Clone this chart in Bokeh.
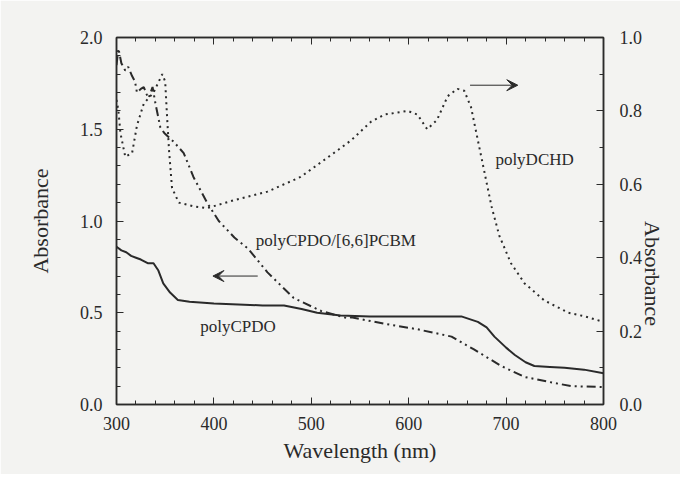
import math
from bokeh.plotting import figure
from bokeh.models import (Range1d, LinearAxis, Arrow, VeeHead, Label,
                          SingleIntervalTicker, NumeralTickFormatter, CustomJSTickFormatter)
from bokeh.embed import file_html
from bokeh.resources import INLINE

# polyCPDO (left axis, solid)
cpdo_x = [300, 305, 310, 315, 320, 325, 332, 338, 343, 348, 355, 363, 375, 400, 425, 450, 472, 490, 506, 530, 560, 599, 630, 654, 671, 680, 688, 700, 709, 720, 729, 745, 760, 780, 800]
cpdo_y = [0.86, 0.84, 0.83, 0.81, 0.80, 0.79, 0.77, 0.77, 0.73, 0.66, 0.61, 0.57, 0.56, 0.55, 0.545, 0.54, 0.54, 0.52, 0.50, 0.485, 0.48, 0.48, 0.48, 0.48, 0.45, 0.42, 0.37, 0.31, 0.27, 0.23, 0.21, 0.205, 0.20, 0.19, 0.17]

# polyCPDO/[6,6]PCBM (left axis, dash-dot-dot)
pcbm_x = [300, 302, 305, 309, 312, 316, 319, 321, 325, 328, 331, 333, 337, 340, 345, 349, 355, 359, 369, 379, 393, 405, 421, 435, 455, 482, 510, 537, 541, 575, 609, 644, 667, 695, 719, 747, 767, 800]
pcbm_y = [1.85, 1.94, 1.86, 1.82, 1.84, 1.79, 1.76, 1.70, 1.72, 1.73, 1.69, 1.67, 1.73, 1.64, 1.51, 1.48, 1.45, 1.43, 1.37, 1.24, 1.10, 1.00, 0.91, 0.85, 0.72, 0.58, 0.51, 0.47, 0.475, 0.44, 0.41, 0.37, 0.30, 0.21, 0.15, 0.12, 0.10, 0.095]

# polyDCHD (right axis, dotted)
dchd_x = [300, 302, 304, 309, 316, 321, 328, 338, 347, 350, 352, 354, 357, 364, 379, 393, 421, 455, 489, 523, 541, 561, 575, 599, 609, 619, 629, 640, 650, 657, 664, 671, 678, 685, 693, 705, 719, 739, 764, 781, 800]
dchd_y = [0.83, 0.80, 0.74, 0.675, 0.685, 0.76, 0.82, 0.85, 0.90, 0.88, 0.78, 0.69, 0.59, 0.55, 0.54, 0.535, 0.557, 0.58, 0.62, 0.685, 0.72, 0.77, 0.79, 0.80, 0.79, 0.75, 0.775, 0.84, 0.86, 0.855, 0.81, 0.72, 0.63, 0.54, 0.46, 0.385, 0.33, 0.284, 0.25, 0.24, 0.225]

labels = ["polyCPDO/[6,6]PCBM", "polyCPDO", "polyDCHD"]

FONT = "Liberation Serif"
INK = "#2a2a2a"
BG = "#f3f3f1"

p = figure(width=680, height=474, output_backend="svg", toolbar_location=None,
           x_range=Range1d(300, 800), y_range=Range1d(0, 2.0),
           min_border_left=116, min_border_right=77, min_border_top=37, min_border_bottom=70)
p.background_fill_color = BG
p.border_fill_color = BG
p.outline_line_color = INK
p.outline_line_width = 1.5
p.grid.visible = False
p.extra_y_ranges = {"right": Range1d(0, 1.0)}

p.line(cpdo_x, cpdo_y, line_color=INK, line_width=2)
p.line(pcbm_x, pcbm_y, line_color=INK, line_width=2, line_dash="9 4 2 4 2 4")
p.line(dchd_x, dchd_y, line_color=INK, line_width=2, line_dash="2 4", y_range_name="right")

def style(ax):
    ax.axis_line_color = INK
    ax.axis_line_width = 1.5
    ax.major_tick_line_color = INK
    ax.minor_tick_line_color = INK
    ax.major_tick_in = 7
    ax.major_tick_out = 0
    ax.minor_tick_in = 4
    ax.minor_tick_out = 0
    ax.major_label_text_font = FONT
    ax.major_label_text_font_size = "18px"
    ax.major_label_text_color = INK
    ax.axis_label_text_font = FONT
    ax.axis_label_text_font_size = "22px"
    ax.axis_label_text_font_style = "normal"
    ax.axis_label_text_color = INK

xa = p.xaxis[0]
style(xa)
xa.ticker = SingleIntervalTicker(interval=100, num_minor_ticks=5)
xa.axis_label = "Wavelength (nm)"
xa.major_label_standoff = 12
xa.axis_label_standoff = 5

ya = p.yaxis[0]
style(ya)
ya.ticker = SingleIntervalTicker(interval=0.5, num_minor_ticks=5)
ya.formatter = NumeralTickFormatter(format="0.0")
ya.axis_label = "Absorbance"
ya.major_label_standoff = 14
ya.axis_label_standoff = 24

ra = LinearAxis(y_range_name="right", axis_label="Absorbance",
                ticker=SingleIntervalTicker(interval=0.2, num_minor_ticks=2),
                formatter=NumeralTickFormatter(format="0.0"))
style(ra)
ra.major_label_standoff = 16
ra.axis_label_standoff = 7
try:
    ra.axis_label_orientation = -math.pi / 2
except Exception:
    pass
p.add_layout(ra, "right")

ta = LinearAxis(ticker=SingleIntervalTicker(interval=100, num_minor_ticks=5),
                formatter=CustomJSTickFormatter(code="return ''"))
style(ta)
ta.major_label_standoff = 0
p.add_layout(ta, "above")

# curve labels
p.add_layout(Label(x=443, y=0.896, text=labels[0], text_font=FONT, text_font_size="17px",
                   text_color=INK, text_baseline="middle", text_align="left"))
p.add_layout(Label(x=386, y=0.426, text=labels[1], text_font=FONT, text_font_size="17px",
                   text_color=INK, text_baseline="middle", text_align="left"))
p.add_layout(Label(x=689, y=0.667, y_range_name="right", text=labels[2], text_font=FONT,
                   text_font_size="17px", text_color=INK, text_baseline="middle", text_align="left"))

# arrows
p.add_layout(Arrow(x_start=445, y_start=0.70, x_end=399, y_end=0.70, line_color=INK, line_width=1,
                   end=VeeHead(size=11, fill_color=INK, line_color=INK)))
p.add_layout(Arrow(x_start=663, y_start=0.87, x_end=712, y_end=0.87, y_range_name="right",
                   line_color=INK, line_width=1,
                   end=VeeHead(size=11, fill_color=INK, line_color=INK)))

open("out.html", "w").write(file_html(p, INLINE))
